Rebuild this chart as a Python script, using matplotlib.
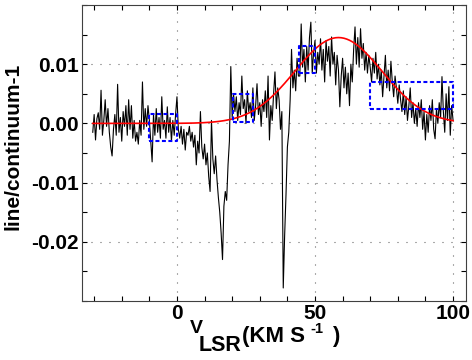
import numpy as np
import matplotlib

matplotlib.use("Agg")
import matplotlib.pyplot as plt
from matplotlib.ticker import FixedLocator, MultipleLocator, FormatStrFormatter

# velocity grid of the spectrum (km/s)
v_start = -30.5
v_step = 0.5

# line/continuum-1, in units of 1e-3
flux_a = [  # -30.5 .. -10.5
    -1.5, 1.5, -2.8, 0.8, 1.8, -1.0, 5.6, -2.0, 0.5, 4.0,
    -0.5, 2.5, -1.5, -4.0, -5.5, -1.0, 1.5, -2.0, 6.6, -1.5,
    1.0, -3.0, 2.0, -0.5, 3.0, -2.0, 4.0, -1.0, 3.0, -2.5,
    0.5, -3.0, -1.5, -3.5, 0.5, -2.0, 7.0, -1.0, 2.5, -0.5,
    3.0,
]
flux_b = [  # -10 .. 9.5
    0.5, -3.0, -6.5, 1.5, -2.0, 2.5, -1.5, 1.0, -2.5, 4.5,
    -1.0, 0.5, -2.5, 2.8, -1.5, 1.0, -3.0, 0.5, -2.0, 1.5,
    4.5, -1.0, -2.5, -0.5, -3.5, -1.0, -4.5, -1.5, -2.0, -0.5,
    -3.0, -1.5, -4.0, -2.0, -7.0, -3.0, -5.0, 2.0, -4.0, -6.0,
]
flux_c = [  # 10 .. 29.5
    -3.5, -7.0, -5.0, -9.0, -11.5, 0.5, -6.0, -8.5, -5.5, -9.5,
    -12.5, -15.0, -18.5, -23.0, -14.0, -11.5, -13.0, -7.0, -3.0, 9.6,
    1.0, 5.0, 2.0, 4.5, 0.5, 3.5, 1.5, 8.0, 2.5, 4.0,
    0.0, 5.5, 2.0, 3.5, 1.0, 6.0, 0.5, 3.0, 6.7, 1.5,
]
flux_d = [  # 30 .. 49.5
    3.5, -0.5, 4.0, 2.0, 5.5, 1.0, 8.0, -2.8, 3.0, 0.5,
    5.0, 8.7, 2.5, 6.0, 4.0, -1.0, 2.0, -27.8, -19.0, -12.0,
    -4.0, -1.5, 4.0, 12.5, 6.0, 9.0, 5.5, 11.0, 8.0, 8.0,
    16.8, 9.5, 12.5, 7.0, 13.0, 9.0, 14.5, 17.1, 8.5, 12.0,
]
flux_e = [  # 50 .. 74.5
    14.0, 8.5, 12.0, 10.0, 14.3, 9.0, 12.5, 7.0, 14.0, 10.5,
    13.0, 8.0, 14.6, 10.0, 12.0, 6.5, 11.5, 9.0, 2.8, 8.0,
    11.0, 6.0, 9.5, 5.0, 8.5, 3.0, 10.0, 7.0, 12.5, 16.3,
    10.0, 14.5, 9.5, 16.0, 11.0, 13.5, 9.0, 12.0, 8.5, 11.5,
    9.5, 7.0, 11.0, 8.5, 12.0, 7.5, 10.0, 6.5, 9.0, 4.5,
]
flux_f = [  # 75 .. 100
    8.0, 11.5, 6.0, 9.0, 5.5, 10.5, 7.0, 4.5, 8.0, 6.0,
    3.4, 6.5, 4.0, 2.0, 5.5, 1.5, 4.5, 0.5, 3.0, 6.0,
    1.0, 3.5, 0.0, 2.5, -0.5, 3.5, 1.0, 4.0, -1.0, 2.0,
    -2.8, 1.5, -1.5, 3.0, 0.5, 4.0, -1.0, -2.6, 2.5, 0.0,
    3.5, 1.0, 7.9, 2.0, -1.5, 5.0, 0.5, 6.2, -2.0, 3.0,
    0.6,
]

# gaussian fit (red curve)
fit_amp = 0.0145
fit_center = 58.5
fit_sigma = 15.8

# dotted boxes: velocity range and mean +/- rms
box_vlo = [-10.0, 20.4, 44.3, 69.9]
box_vhi = [0.0, 27.4, 50.0, 99.9]
box_ylo = [-0.0029, 0.0002, 0.0085, 0.0024]
box_yhi = [0.0016, 0.0049, 0.0130, 0.0070]

y_labelled = [-0.02, -0.01, 0.0, 0.01]

flux = np.array(flux_a + flux_b + flux_c + flux_d + flux_e + flux_f) * 1e-3
vel = v_start + v_step * np.arange(len(flux))
model = fit_amp * np.exp(-0.5 * ((vel - fit_center) / fit_sigma) ** 2)

plt.rcParams["font.family"] = ["Liberation Sans", "DejaVu Sans"]
plt.rcParams["font.weight"] = "bold"

W, H = 472, 360
fig = plt.figure(figsize=(W / 100, H / 100), dpi=100)
ax = fig.add_axes([82 / W, 1 - 301 / H, 384 / W, 296 / H])

ax.plot(vel, flux, color="black", linewidth=0.8)
ax.plot(vel, model, color="#ff0000", linewidth=1.2)
for vlo, vhi, ylo, yhi in zip(box_vlo, box_vhi, box_ylo, box_yhi):
    ax.plot([vlo, vhi, vhi, vlo, vlo], [ylo, ylo, yhi, yhi, ylo],
            color="#0000ff", linewidth=1.5, linestyle=(0, (1.9, 1.2)))

ax.set_xlim(-34.4, 104.7)
ax.set_ylim(-0.03, 0.02)
ax.xaxis.set_major_locator(MultipleLocator(50))
ax.xaxis.set_minor_locator(MultipleLocator(10))
ax.yaxis.set_major_locator(FixedLocator(y_labelled))
ax.yaxis.set_minor_locator(MultipleLocator(0.005))
ax.yaxis.set_major_formatter(FormatStrFormatter("%.2f"))
ax.tick_params(which="both", direction="in", top=True, right=True,
               length=3.5, width=0.8, labelsize=15)
ax.tick_params(axis="x", pad=2)
ax.tick_params(axis="y", pad=2)
for label in ax.get_xticklabels() + ax.get_yticklabels():
    label.set_fontweight("bold")
ax.grid(True, which="major", color="0.35", linewidth=0.8,
        linestyle=(0, (0.9, 7.2)))
for spine in ax.spines.values():
    spine.set_linewidth(0.8)
    spine.set_color("0.25")

fig.text(13.5 / W, 1 - 146 / H, "line/continuum-1", rotation=90,
         ha="center", va="center", fontsize=15, fontweight="bold")


def put(text, x, y, size):
    fig.text(x / W, 1 - y / H, text, ha="left", va="baseline",
             fontsize=size, fontweight="bold")


# x label, IDL style: V with a large LSR subscript, units with -1 exponent
put("V", 190, 333, 14)
put("LSR", 199, 351, 15.5)
put("(KM S", 242, 342, 16)
put("-1", 310, 333, 10.5)
put(")", 332, 342, 16)

fig.savefig("out.png", dpi=100)
